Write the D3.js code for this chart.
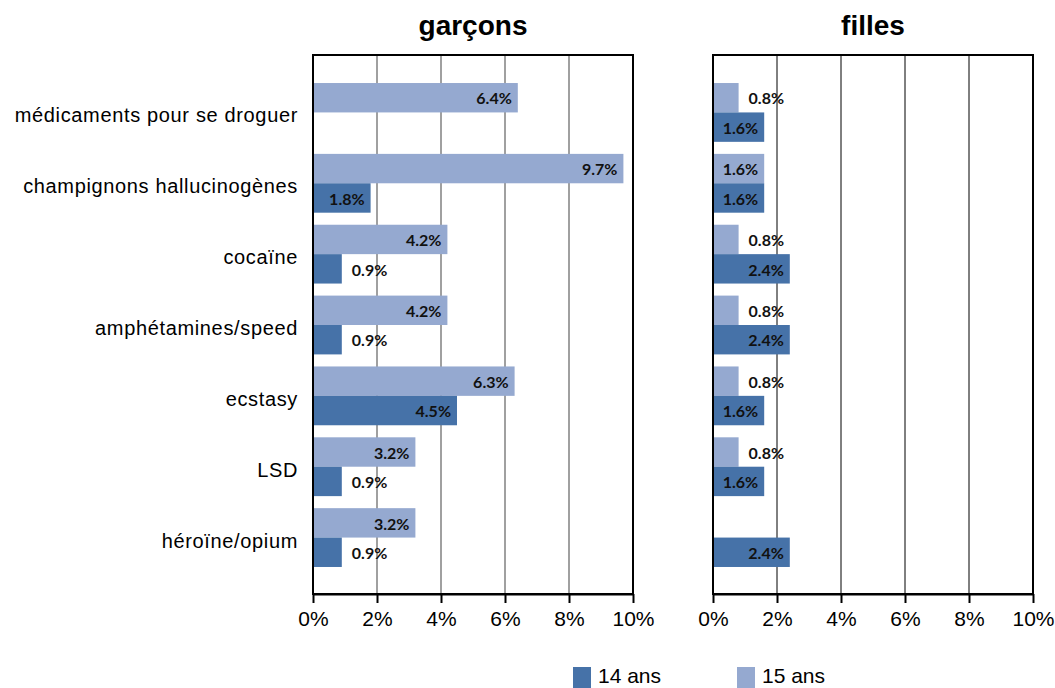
<!DOCTYPE html>
<html>
<head>
<meta charset="utf-8">
<script src="https://cdn.jsdelivr.net/npm/d3@7"></script>
<style>
  html, body { margin: 0; padding: 0; background: #fff; }
  svg { display: block; }
</style>
</head>
<body>
<svg id="chart" width="1055" height="688"></svg>
<script>
const categories = [
  "médicaments pour se droguer",
  "champignons hallucinogènes",
  "cocaïne",
  "amphétamines/speed",
  "ecstasy",
  "LSD",
  "héroïne/opium"
];
const seriesNames = ["15 ans", "14 ans"];
const garcons15 = [6.4, 9.7, 4.2, 4.2, 6.3, 3.2, 3.2];
const garcons14 = [0, 1.8, 0.9, 0.9, 4.5, 0.9, 0.9];
const filles15  = [0.8, 1.6, 0.8, 0.8, 0.8, 0.8, 0];
const filles14  = [1.6, 1.6, 2.4, 2.4, 1.6, 1.6, 2.4];
const xTicks = [0, 2, 4, 6, 8, 10];
const panelTitles = ["garçons", "filles"];
const legendLabels = ["14 ans", "15 ans"];

const colors = { "14 ans": "#4672a8", "15 ans": "#95a9d0" };

const svg = d3.select("#chart");
const plotTop = 55, plotBottom = 594;

const y = d3.scaleBand().domain(categories).range([plotTop + 22, plotBottom - 21]).paddingInner(0.17).paddingOuter(0.085);
const ySub = d3.scaleBand().domain(seriesNames).range([0, y.bandwidth()]);

const panels = [
  { title: panelTitles[0], left: 313, right: 633, s15: garcons15, s14: garcons14, grid: "#808080", gridW: 1.5 },
  { title: panelTitles[1], left: 713, right: 1033, s15: filles15, s14: filles14, grid: "#000000", gridW: 1 }
];

const font = "'Liberation Sans', Arial, sans-serif";

panels.forEach(p => {
  const x = d3.scaleLinear().domain([0, 10]).range([p.left, p.right]);
  const g = svg.append("g");

  // gridlines
  g.selectAll("line.grid").data(xTicks.filter(t => t > 0 && t < 10)).join("line")
    .attr("class", "grid")
    .attr("x1", d => x(d)).attr("x2", d => x(d))
    .attr("y1", plotTop).attr("y2", plotBottom)
    .attr("stroke", p.grid).attr("stroke-width", p.gridW);

  // bars
  const rows = categories.map((c, i) => ({ c, "15 ans": p.s15[i], "14 ans": p.s14[i] }));
  rows.forEach(r => {
    seriesNames.forEach(s => {
      const v = r[s];
      if (!v) return;
      const y0 = y(r.c) + ySub(s);
      const h = ySub.bandwidth();
      g.append("rect")
        .attr("x", x(0)).attr("y", y0)
        .attr("width", x(v) - x(0)).attr("height", h)
        .attr("fill", colors[s]);
      const t = g.append("text")
        .attr("y", y0 + h / 2 + 1)
        .attr("dy", "0.36em")
        .attr("font-family", "Lato, 'Open Sans', sans-serif")
        .attr("font-weight", "bold")
        .attr("font-size", 16)
        .attr("fill", "#111")
        .text(v.toFixed(1) + "%");
      const tw = t.node().getComputedTextLength();
      const bw = x(v) - x(0);
      if (bw > tw + 10) {
        t.attr("x", x(v) - 6).attr("text-anchor", "end");
      } else {
        t.attr("x", x(v) + 10).attr("text-anchor", "start");
      }
    });
  });

  // frame
  g.append("rect")
    .attr("x", p.left).attr("y", plotTop)
    .attr("width", p.right - p.left).attr("height", plotBottom - plotTop)
    .attr("fill", "none").attr("stroke", "#000").attr("stroke-width", 2);

  // axis
  const ax = g.append("g")
    .attr("transform", `translate(0,${plotBottom})`)
    .call(d3.axisBottom(x).tickValues(xTicks).tickFormat(d => d + "%").tickSize(9).tickSizeOuter(0).tickPadding(8));
  ax.select(".domain").attr("stroke", "#000").attr("stroke-width", 2);
  ax.selectAll(".tick line").attr("stroke", "#000").attr("stroke-width", 2);
  ax.selectAll(".tick text")
    .attr("font-family", font).attr("font-size", 21).attr("fill", "#000");

  // title
  svg.append("text")
    .attr("x", (p.left + p.right) / 2).attr("y", 35)
    .attr("text-anchor", "middle")
    .attr("font-family", font).attr("font-weight", "bold").attr("font-size", 28)
    .text(p.title);
});

// category labels
svg.selectAll("text.cat").data(categories).join("text")
  .attr("class", "cat")
  .attr("x", 298)
  .attr("y", d => y(d) + y.bandwidth() / 2 + 3)
  .attr("dy", "0.35em")
  .attr("text-anchor", "end")
  .attr("font-family", font).attr("font-size", 20).attr("letter-spacing", "0.65px").attr("fill", "#000")
  .text(d => d);

// legend
const legendX = [573, 737];
legendLabels.forEach((l, i) => {
  svg.append("rect").attr("x", legendX[i]).attr("y", 667).attr("width", 18).attr("height", 21).attr("fill", colors[l]);
  svg.append("text").attr("x", legendX[i] + 25).attr("y", 683)
    .attr("font-family", font).attr("font-size", 21).attr("fill", "#000").text(l);
});
</script>
</body>
</html>
